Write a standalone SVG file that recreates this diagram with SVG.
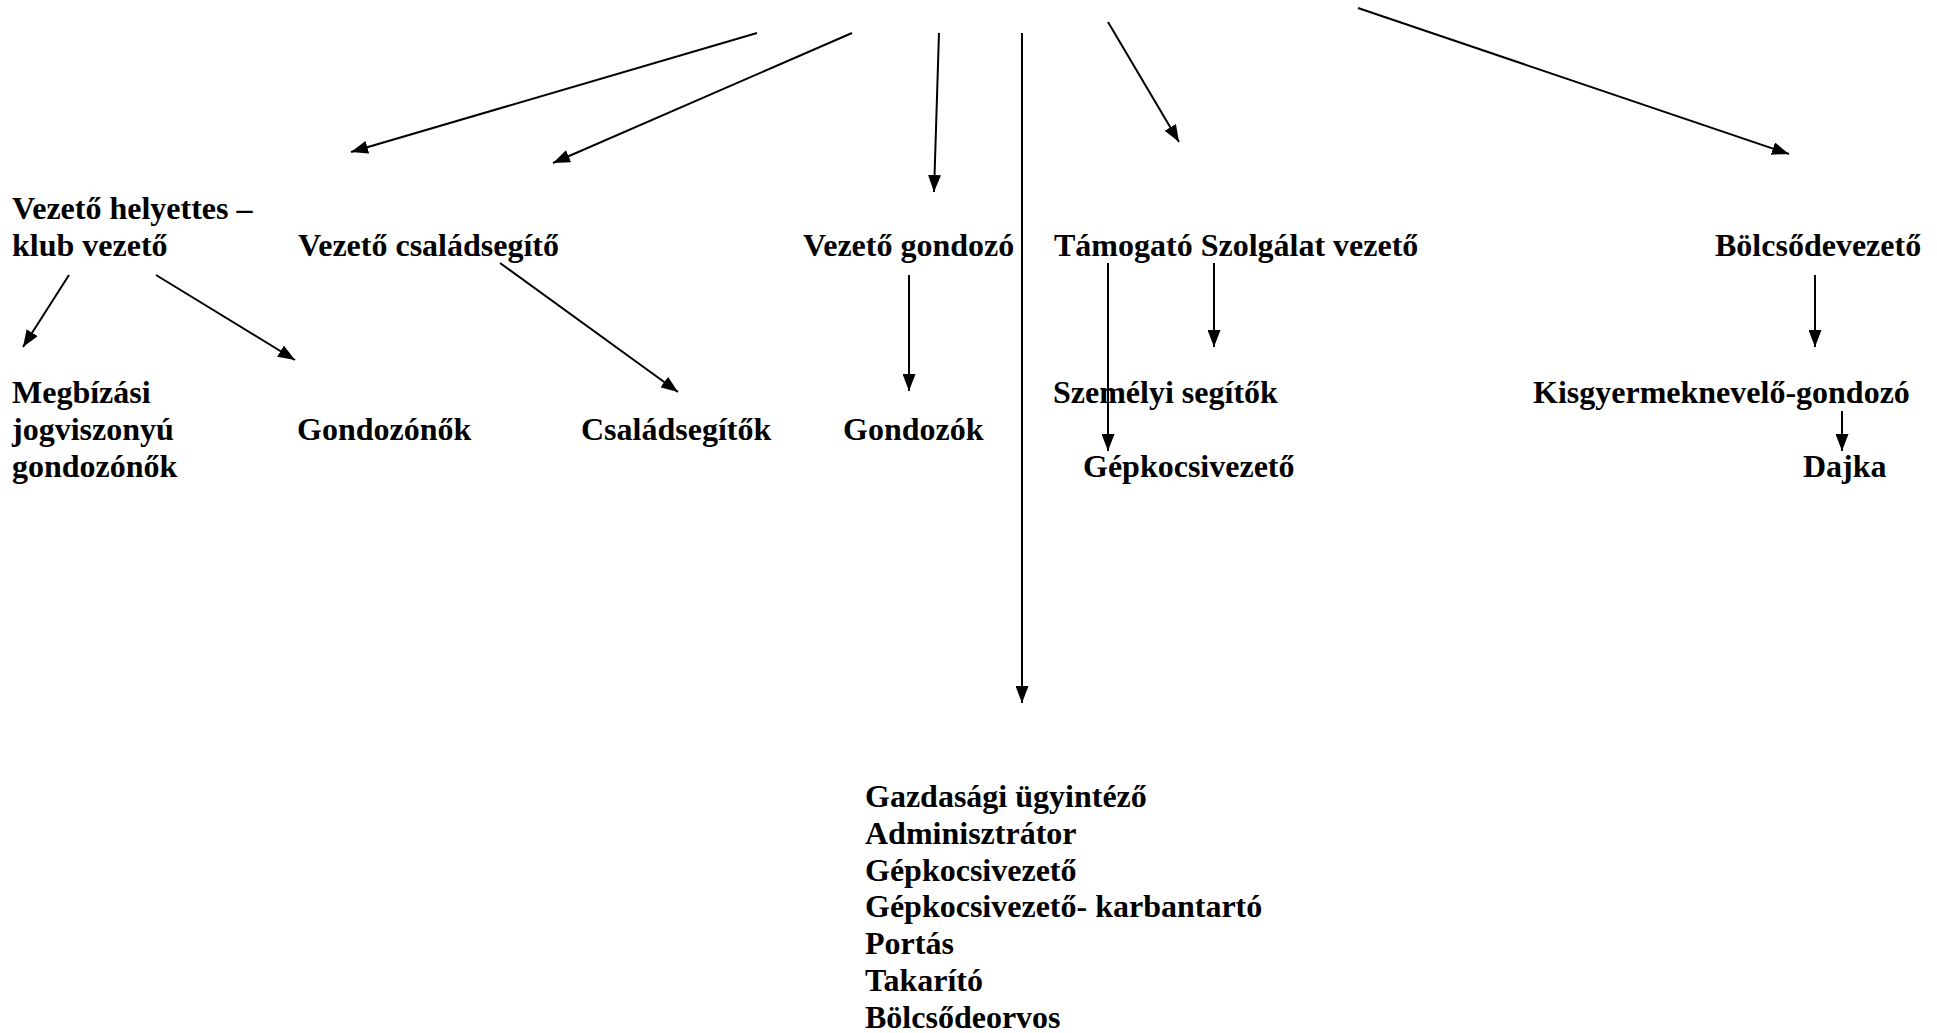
<svg xmlns="http://www.w3.org/2000/svg" width="1937" height="1033" viewBox="0 0 1937 1033">
<style>
text{font-family:"Liberation Serif","Times New Roman",serif;font-weight:bold;font-size:32px;fill:#000}
.c line{stroke:#000;stroke-width:2;marker-end:url(#ah)}
</style>
<defs>
<marker id="ah" viewBox="0 0 17 13" refX="17" refY="6.5" markerWidth="17" markerHeight="13" markerUnits="userSpaceOnUse" orient="auto">
<path d="M0,0 L17,6.5 L0,13 Z" fill="#000"/>
</marker>
</defs>
<rect width="1937" height="1033" fill="#fff"/>
<g id="connectors" class="c">
<line x1="757" y1="33" x2="351" y2="152"/>
<line x1="852" y1="33" x2="553" y2="163"/>
<line x1="939" y1="33" x2="934" y2="192"/>
<line x1="1022" y1="33" x2="1022" y2="703"/>
<line x1="1108" y1="22" x2="1179" y2="142"/>
<line x1="1358" y1="8" x2="1789" y2="154"/>
<line x1="69" y1="275" x2="23" y2="347"/>
<line x1="156" y1="275" x2="295" y2="360"/>
<line x1="500" y1="263" x2="678" y2="392"/>
<line x1="909" y1="275" x2="909" y2="391"/>
<line x1="1108" y1="263" x2="1108" y2="451"/>
<line x1="1214" y1="263" x2="1214" y2="347"/>
<line x1="1815" y1="275" x2="1815" y2="347"/>
<line x1="1842" y1="411" x2="1842" y2="451"/>
</g>
<g id="n-vezeto-helyettes"><text x="12" y="219">Vezető helyettes –</text><text x="12" y="256">klub vezető</text></g>
<g id="n-vezeto-csaladsegito"><text x="298" y="256">Vezető családsegítő</text></g>
<g id="n-vezeto-gondozo"><text x="803" y="256">Vezető gondozó</text></g>
<g id="n-tamogato"><text x="1054" y="256">Támogató Szolgálat vezető</text></g>
<g id="n-bolcsodevezeto"><text x="1715" y="256">Bölcsődevezető</text></g>
<g id="n-megbizasi"><text x="12" y="403">Megbízási</text><text x="12" y="440">jogviszonyú</text><text x="12" y="477">gondozónők</text></g>
<g id="n-gondozonok"><text x="297" y="440">Gondozónők</text></g>
<g id="n-csaladsegitok"><text x="581" y="440">Családsegítők</text></g>
<g id="n-gondozok"><text x="843" y="440">Gondozók</text></g>
<g id="n-szemelyi"><text x="1053" y="403">Személyi segítők</text></g>
<g id="n-gepkocsivezeto"><text x="1083" y="477">Gépkocsivezető</text></g>
<g id="n-kisgyermek"><text x="1533" y="403">Kisgyermeknevelő-gondozó</text></g>
<g id="n-dajka"><text x="1803" y="477">Dajka</text></g>
<g id="n-gazdasagi">
<text x="865" y="807">Gazdasági ügyintéző</text>
<text x="865" y="843.8">Adminisztrátor</text>
<text x="865" y="880.6">Gépkocsivezető</text>
<text x="865" y="917.4">Gépkocsivezető- karbantartó</text>
<text x="865" y="954.2">Portás</text>
<text x="865" y="991">Takarító</text>
<text x="865" y="1027.8">Bölcsődeorvos</text>
</g>
</svg>
